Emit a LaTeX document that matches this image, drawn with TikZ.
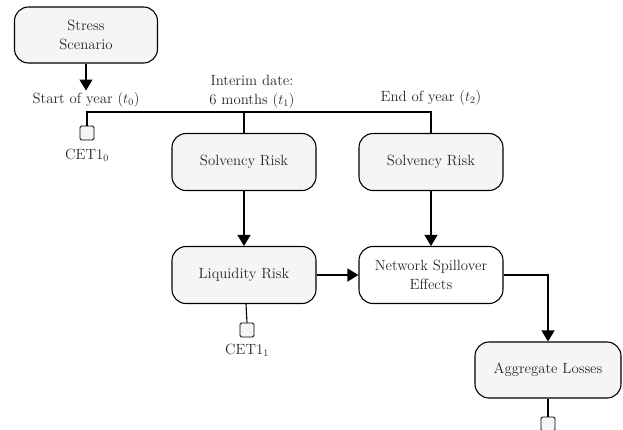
\documentclass[tikz,border=0pt]{standalone}
\usetikzlibrary{arrows.meta}
\begin{document}
\begin{tikzpicture}[x=1pt,y=-1pt,
  font=\fontsize{14.8}{19}\selectfont,
  box/.style={draw=black,line width=1.1pt,rounded corners=14pt,fill=gray!8,minimum width=144pt,minimum height=57pt,align=center,text=black!85},
  wbox/.style={box,fill=white},
  sq/.style={draw=black,line width=0.9pt,fill=gray!8,rounded corners=1.5pt,minimum width=14pt,minimum height=14pt,inner sep=0pt},
  arr/.style={line width=1.1pt,-{Triangle[width=13pt,length=11pt]}},
  ln/.style={line width=1.1pt},
  lbl/.style={text=black!85,align=center,inner sep=0pt}]
\useasboundingbox (0,0) rectangle (623,429);
\node[box,minimum width=143pt,minimum height=56pt] (stress) at (86,35) {Stress\\Scenario};
\node[lbl] (start) at (86,100) {Start of year ($t_0$)};
\coordinate (tl) at (87,112);
\coordinate (tm) at (244,112);
\coordinate (tr) at (431,112);
\node[lbl] (interim) at (252,91.5) {Interim date:\\6 months ($t_1$)};
\node[lbl] (end) at (431,98) {End of year ($t_2$)};
\node[sq] (sq0) at (87,133) {};
\node[lbl] (cet0) at (87,155) {CET1$_0$};
\node[box] (solv1) at (244,162) {Solvency Risk};
\node[box] (solv2) at (431,162) {Solvency Risk};
\node[box] (liq) at (244,275) {Liquidity Risk};
\node[wbox] (net) at (431,275) {Network Spillover\\Effects};
\node[sq] (sq1) at (247,330) {};
\node[lbl] (cet1) at (247,350) {CET1$_1$};
\node[box,minimum width=146pt,minimum height=56pt] (agg) at (548,370) {Aggregate Losses};
\node[sq] (sq2) at (548,424) {};
\draw[arr] (stress.south) -- ++(0,27);
\draw[ln] (sq0.north) -- (tl) -- (tr) -- (solv2.north);
\draw[ln] (tm) -- (solv1.north);
\draw[arr] (solv1) -- (liq);
\draw[arr] (solv2) -- (net);
\draw[arr] (liq) -- (net);
\draw[arr] (net.east) -| (agg.north);
\draw[ln] (liq.south) ++(2,0) -- (sq1.north);
\draw[ln] (agg.south) -- (sq2.north);
\end{tikzpicture}
\end{document}
